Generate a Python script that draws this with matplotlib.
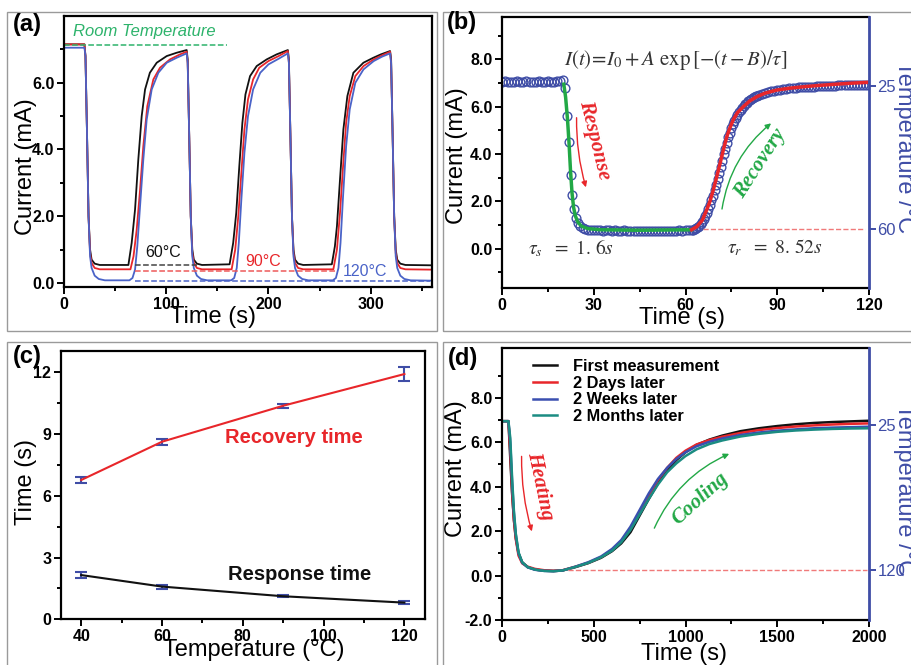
import numpy as np
import matplotlib
matplotlib.use('Agg')
import matplotlib.pyplot as plt
from matplotlib.patches import Rectangle
from matplotlib.ticker import MultipleLocator, FixedLocator, FormatStrFormatter

plt.rcParams['font.family'] = ['Liberation Sans', 'DejaVu Sans']
plt.rcParams['mathtext.fontset'] = 'stix'

# ---------------- data ----------------
# (a) cycling at three temperatures
a_time_60 = [0, 20, 21, 22.5, 24, 25.5, 27, 30, 35, 63, 66.2, 69.5, 72.7, 76, 79.3, 84, 90.7, 100.5, 110.3, 120,
             121, 122.5, 124, 125.5, 127, 130, 135, 162, 165.5, 168.5, 171.5, 174.5, 177.5, 182, 188.5, 198.3, 208, 219,
             220, 221.5, 223, 224.5, 226, 229, 234, 262, 265, 267, 270, 273.3, 277.2, 283.1, 292.9, 302.7, 310, 319,
             320, 321.5, 323, 324.5, 326, 329, 334, 360]
a_curr_60 = [7.15, 7.15, 6.8, 4.5, 2.0, 1.0, 0.7, 0.58, 0.54, 0.54, 1.2, 2.2, 3.7, 5.0, 5.8, 6.3, 6.6, 6.8, 6.9, 6.98,
             6.7, 4.4, 2.0, 1.0, 0.7, 0.58, 0.54, 0.56, 1.2, 2.1, 3.5, 4.8, 5.65, 6.2, 6.5, 6.7, 6.85, 6.98,
             6.7, 4.4, 2.0, 1.0, 0.7, 0.58, 0.54, 0.56, 1.1, 1.7, 3.1, 4.6, 5.6, 6.3, 6.6, 6.75, 6.85, 6.95,
             6.7, 4.4, 2.0, 1.0, 0.7, 0.58, 0.54, 0.53]
a_time_90 = [0, 20, 21, 22.5, 24, 25.5, 27, 30, 35, 65, 68, 71.1, 74.4, 77.6, 81.5, 87.4, 93.9, 103.7, 113.5, 120,
             121, 122.5, 124, 125.5, 127, 130, 135, 164, 167.5, 170.5, 173.5, 176.5, 180, 185, 191, 200, 210, 219,
             220, 221.5, 223, 224.5, 226, 229, 234, 263.5, 267, 270, 273, 276, 279.5, 285, 293, 303, 311, 319,
             320, 321.5, 323, 324.5, 326, 329, 334, 360]
a_curr_90 = [7.15, 7.15, 6.8, 4.5, 2.0, 0.9, 0.6, 0.45, 0.41, 0.41, 0.8, 1.59, 2.79, 4.1, 5.3, 6.1, 6.45, 6.7, 6.85, 6.93,
             6.6, 4.4, 2.0, 0.9, 0.6, 0.45, 0.41, 0.41, 1.0, 2.0, 3.3, 4.6, 5.5, 6.1, 6.45, 6.65, 6.8, 6.95,
             6.6, 4.4, 2.0, 0.9, 0.6, 0.45, 0.41, 0.41, 1.0, 2.1, 3.5, 4.8, 5.6, 6.2, 6.5, 6.7, 6.82, 6.93,
             6.6, 4.4, 2.0, 0.9, 0.6, 0.45, 0.41, 0.40]
a_time_120 = [0, 20, 21, 22.5, 24, 25.5, 27, 30, 34, 40, 64, 67, 69.5, 71.7, 74.4, 77.6, 80.9, 85.8, 92.3, 100.5, 110.3, 120,
              121, 122.5, 124, 125.5, 127, 130, 134, 140, 163.5, 166.5, 169, 171, 173.5, 176.5, 180, 185, 192, 200, 210, 219,
              220, 221.5, 223, 224.5, 226, 229, 233, 239, 263, 266, 268.5, 270.5, 273, 276, 279.5, 285, 293, 303, 311, 319,
              320, 321.5, 323, 324.5, 326, 329, 333, 339, 360]
a_curr_120 = [7.05, 7.05, 6.8, 4.5, 2.0, 0.8, 0.45, 0.22, 0.12, 0.08, 0.08, 0.15, 0.4, 1.1, 2.3, 3.7, 4.9, 5.8, 6.3, 6.6, 6.75, 6.88,
              6.6, 4.4, 2.0, 0.8, 0.45, 0.22, 0.12, 0.08, 0.08, 0.15, 0.45, 1.2, 2.5, 3.9, 5.0, 5.8, 6.3, 6.55, 6.72, 6.88,
              6.6, 4.4, 2.0, 0.8, 0.45, 0.22, 0.12, 0.08, 0.08, 0.15, 0.45, 1.2, 2.6, 4.1, 5.2, 6.0, 6.4, 6.65, 6.78, 6.88,
              6.6, 4.4, 2.0, 0.8, 0.45, 0.22, 0.12, 0.08, 0.07]
a_levels = [0.53, 0.36, 0.05]      # dashed guide levels 60, 90, 120 C
room_level = 7.12

# (b) single cycle with fits
b_time = (list(range(0, 20))
          + [20.0, 20.6, 21.4, 21.9, 22.5, 23.0, 23.6, 24.2, 24.9, 25.6, 26.4, 27.2]
          + list(range(28, 62))
          + list(np.arange(62, 84.5, 0.5))
          + list(range(85, 121)))
b_curr = ([7.05, 7.07, 7.04, 7.06, 7.05, 7.08, 7.04, 7.06, 7.07, 7.05,
           7.06, 7.04, 7.07, 7.05, 7.06, 7.08, 7.05, 7.06, 7.07, 7.08]
          + [7.12, 6.78, 5.61, 4.52, 3.11, 2.27, 1.66, 1.30, 1.08, 0.95, 0.87, 0.82]
          + [0.80, 0.79, 0.78, 0.77, 0.78, 0.76, 0.77, 0.78, 0.76, 0.77,
             0.75, 0.76, 0.77, 0.75, 0.76, 0.75, 0.76, 0.74, 0.75, 0.76,
             0.74, 0.75, 0.76, 0.75, 0.74, 0.76, 0.75, 0.76, 0.75, 0.76,
             0.77, 0.76, 0.77, 0.78]
          + [0.78, 0.80, 0.83, 0.87, 0.92, 0.98, 1.05, 1.14, 1.25, 1.38,
             1.52, 1.68, 1.85, 2.04, 2.24, 2.46, 2.70, 2.95, 3.20, 3.46,
             3.72, 3.98, 4.23, 4.47, 4.70, 4.90, 5.08, 5.25, 5.40, 5.53,
             5.65, 5.76, 5.86, 5.95, 6.03, 6.10, 6.16, 6.22, 6.27, 6.32,
             6.36, 6.40, 6.43, 6.46, 6.49]
          + [6.54, 6.58, 6.62, 6.65, 6.68, 6.70, 6.72, 6.74, 6.76, 6.77,
             6.79, 6.80, 6.81, 6.82, 6.83, 6.84, 6.85, 6.85, 6.86, 6.87,
             6.87, 6.88, 6.88, 6.89, 6.89, 6.90, 6.90, 6.90, 6.91, 6.91,
             6.91, 6.92, 6.92, 6.92, 6.92, 6.93])
fit_resp_t = [20.2, 20.8, 21.4, 21.9, 22.4, 22.9, 23.4, 24.0, 24.8, 26, 28, 32, 45, 62]
fit_resp_i = [6.95, 6.4, 5.5, 4.5, 3.3, 2.35, 1.75, 1.38, 1.12, 0.95, 0.85, 0.8, 0.78, 0.8]
fit_rec_t = [62, 63.7, 65.5, 66.9, 68, 69.1, 70.2, 71.3, 72.4, 73.5, 74.5, 75.6, 77, 78.9, 81, 83.3,
             86, 89.8, 94, 98.5, 103, 108.3, 114, 120]
fit_rec_i = [0.8, 0.93, 1.2, 1.63, 2.0, 2.48, 3.03, 3.6, 4.18, 4.73, 5.1, 5.44, 5.75, 6.0, 6.24, 6.42,
             6.57, 6.7, 6.78, 6.84, 6.89, 6.94, 6.99, 7.03]
b_temp_ticks = [25, 60]

# (c) response / recovery time vs temperature
c_temp = [40, 60, 90, 120]
c_recovery = [6.77, 8.63, 10.38, 11.92]
c_recovery_err = [0.15, 0.15, 0.1, 0.34]
c_response = [2.15, 1.59, 1.12, 0.81]
c_response_err = [0.13, 0.1, 0.05, 0.06]

# (d) stability
d_time = [0, 35, 45, 55, 65, 75, 90, 110, 140, 180, 230, 280, 330, 400, 470, 540, 600, 650, 700, 750,
          800, 850, 900, 950, 1000, 1060, 1130, 1200, 1300, 1400, 1500, 1600, 1700, 1800, 1900, 2000]
d_first = [6.95, 6.95, 5.3, 3.7, 2.5, 1.7, 1.0, 0.6, 0.38, 0.27, 0.22, 0.2, 0.23, 0.38, 0.56, 0.8, 1.1, 1.45, 1.95, 2.7,
           3.45, 4.15, 4.75, 5.2, 5.55, 5.88, 6.12, 6.3, 6.5, 6.63, 6.73, 6.81, 6.87, 6.91, 6.94, 6.97]
d_days = [6.95, 6.95, 5.6, 3.8, 2.5, 1.65, 0.9, 0.55, 0.4, 0.3, 0.24, 0.22, 0.24, 0.4, 0.58, 0.83, 1.15, 1.55, 2.1, 2.85,
          3.6, 4.3, 4.85, 5.3, 5.62, 5.9, 6.1, 6.25, 6.42, 6.55, 6.64, 6.71, 6.76, 6.8, 6.83, 6.85]
d_weeks = [6.95, 6.95, 6.0, 4.2, 2.8, 1.85, 1.0, 0.58, 0.37, 0.26, 0.21, 0.2, 0.23, 0.4, 0.6, 0.86, 1.2, 1.6, 2.2, 2.95,
           3.7, 4.35, 4.85, 5.25, 5.55, 5.82, 6.02, 6.17, 6.33, 6.44, 6.52, 6.58, 6.63, 6.66, 6.68, 6.7]
d_months = [6.95, 6.95, 6.2, 4.4, 2.9, 1.9, 1.05, 0.6, 0.38, 0.27, 0.21, 0.2, 0.23, 0.39, 0.57, 0.82, 1.12, 1.5, 2.05, 2.75,
            3.45, 4.1, 4.65, 5.05, 5.38, 5.68, 5.92, 6.08, 6.26, 6.38, 6.47, 6.53, 6.57, 6.6, 6.62, 6.63]
d_labels = ['First measurement', '2 Days later', '2 Weeks later', '2 Months later']
d_temp_ticks = [25, 120]

# ---------------- styling ----------------
RED = '#E8262A'
BLUE = '#4A63C8'
AXBLUE = '#3F4DA6'
GREEN = '#22A846'
TEAL = '#1B8C82'
W, H = 911, 665

fig = plt.figure(figsize=(W / 100, H / 100), dpi=100)


def add_ax(left, right, top, bottom):
    return fig.add_axes([left / W, 1 - bottom / H, (right - left) / W, (bottom - top) / H])


def style(ax):
    for s in ax.spines.values():
        s.set_linewidth(1.6)
    ax.tick_params(which='both', direction='out', top=False, right=False, width=1.4)
    ax.tick_params(which='major', length=5, labelsize=11.5, pad=2)
    ax.tick_params(which='minor', length=3)
    plt.setp(ax.get_xticklabels() + ax.get_yticklabels(), fontweight='bold')


# gray panel frames
for x0, y0, x1, y1 in [(7, 12, 437, 331), (443, 12, 915, 331), (7, 342, 437, 670), (443, 342, 915, 670)]:
    fig.add_artist(Rectangle((x0 / W, 1 - y1 / H), (x1 - x0) / W, (y1 - y0) / H,
                             transform=fig.transFigure, fill=False, ec='#9a9a9a', lw=1.0))

# ---------------- (a) ----------------
axa = add_ax(64, 432, 16, 287)
axa.plot(a_time_60, a_curr_60, color='#111111', lw=1.3)
axa.plot(a_time_90, a_curr_90, color=RED, lw=1.3)
axa.plot(a_time_120, a_curr_120, color=BLUE, lw=1.3)
axa.plot([0, 159], [room_level, room_level], ls='--', color='#2DB36B', lw=1.1)
axa.plot([69, 130], [a_levels[0]] * 2, ls='--', color='#444444', lw=1.1)
axa.plot([69, 266], [a_levels[1]] * 2, ls='--', color='#EE5A5A', lw=1.1)
axa.plot([69, 358], [a_levels[2]] * 2, ls='--', color=BLUE, lw=1.1)
axa.text(8.8, 7.54, 'Room Temperature', color='#2DB36B', fontstyle='italic', fontsize=12, va='center')
axa.text(79.3, 0.9, '60°C', color='#111111', fontsize=11.5, va='center')
axa.text(177, 0.63, '90°C', color=RED, fontsize=11.5, va='center')
axa.text(273, 0.33, '120°C', color=BLUE, fontsize=11.5, va='center')
axa.set_xlim(0, 360)
axa.set_ylim(-0.12, 8.0)
axa.xaxis.set_major_locator(MultipleLocator(100))
axa.xaxis.set_minor_locator(MultipleLocator(50))
axa.yaxis.set_major_locator(FixedLocator([0, 2, 4, 6]))
axa.yaxis.set_minor_locator(FixedLocator([1, 3, 5, 7]))
axa.yaxis.set_major_formatter(FormatStrFormatter('%.1f'))
axa.set_xlabel('Time (s)', fontsize=17)
axa.set_ylabel('Current (mA)', fontsize=17)
axa.xaxis.set_label_coords(0.405, -0.07)
axa.yaxis.set_label_coords(-0.073, 0.445)
style(axa)

# ---------------- (b) ----------------
axb = add_ax(502, 869, 16.7, 288)
axb.plot(b_time, b_curr, 'o', mfc='none', mec=AXBLUE, ms=6.3, mew=1.0)
axb.plot(fit_resp_t, fit_resp_i, color=GREEN, lw=2.5)
axb.plot(fit_rec_t, fit_rec_i, color=RED, lw=2.5)
axb.text(56.9, 7.97, r'$I\left(t\right)\!=\!I_0+A\ \exp\left[-\left(t-B\right)/\tau\right]$',
         fontsize=15, color='#333333', ha='center', va='center')
serif = dict(family='Liberation Serif', style='italic', weight='bold', fontsize=15,
             ha='center', va='center', rotation_mode='anchor')
axb.text(30.4, 4.6, 'Response', color=RED, rotation=-76, **serif)
axb.text(84.4, 3.61, 'Recovery', color=GREEN, rotation=57, **serif)
axb.annotate('', xy=(27.7, 2.48), xytext=(24.4, 5.65),
             arrowprops=dict(arrowstyle='-|>', color=RED, lw=1.0, mutation_scale=8,
                             connectionstyle='arc3,rad=0.08'))
axb.annotate('', xy=(88.7, 5.37), xytext=(71.8, 1.56),
             arrowprops=dict(arrowstyle='-|>', color=GREEN, lw=1.0, mutation_scale=8,
                             connectionstyle='arc3,rad=-0.2'))
axb.text(8.6, 0.03, r'$\tau_s\ \ =\ 1.\,6s$', fontsize=14, color='#333333', va='center')
axb.text(73.5, 0.03, r'$\tau_r\ \ =\ 8.\,52s$', fontsize=14, color='#333333', va='center')
axb.set_xlim(0, 120)
axb.set_ylim(-1.66, 9.8)
axb.xaxis.set_major_locator(MultipleLocator(30))
axb.xaxis.set_minor_locator(MultipleLocator(15))
axb.yaxis.set_major_locator(MultipleLocator(2))
axb.yaxis.set_minor_locator(MultipleLocator(1))
axb.yaxis.set_major_formatter(FormatStrFormatter('%.1f'))
axb.set_xlabel('Time (s)', fontsize=17)
axb.set_ylabel('Current (mA)', fontsize=17)
axb.xaxis.set_label_coords(0.49, -0.07)
axb.yaxis.set_label_coords(-0.093, 0.487)
style(axb)
axb.spines['right'].set_visible(False)
tb = axb.twinx()
tb.set_ylim(74.44, 8.04)
tb.set_yticks(b_temp_ticks)
tb.plot([65.8, 118.7], [60, 60], ls='--', color='#F07A7A', lw=1.0)
tb.tick_params(axis='y', colors=AXBLUE, labelsize=12, direction='out', length=5, width=1.4, pad=1)
tb.spines['right'].set_color(AXBLUE)
tb.spines['right'].set_linewidth(2.0)
for side in ['left', 'top', 'bottom']:
    tb.spines[side].set_visible(False)

# ---------------- (c) ----------------
axc = add_ax(61, 425, 351, 619.3)
axc.errorbar(c_temp, c_recovery, yerr=c_recovery_err, color=RED, ecolor=AXBLUE, lw=1.5,
             elinewidth=1.5, capsize=4, capthick=1.5)
axc.errorbar(c_temp, c_response, yerr=c_response_err, color='#111111', ecolor=AXBLUE, lw=1.5,
             elinewidth=1.5, capsize=4, capthick=1.5)
axc.text(75.7, 8.86, 'Recovery time', color=RED, fontweight='bold', fontsize=14.5, va='center')
axc.text(76.4, 2.2, 'Response time', color='#111111', fontweight='bold', fontsize=14.5, va='center')
axc.set_xlim(35, 125.1)
axc.set_ylim(0, 13.04)
axc.xaxis.set_major_locator(MultipleLocator(20))
axc.xaxis.set_minor_locator(MultipleLocator(10))
axc.yaxis.set_major_locator(MultipleLocator(3))
axc.yaxis.set_minor_locator(MultipleLocator(1.5))
axc.set_xlabel('Temperature (°C)', fontsize=17)
axc.set_ylabel('Time (s)', fontsize=17)
axc.xaxis.set_label_coords(0.529, -0.073)
axc.yaxis.set_label_coords(-0.066, 0.512)
style(axc)

# ---------------- (d) ----------------
axd = add_ax(502, 869, 348.3, 620)
axd.plot(d_time, d_first, color='#111111', lw=1.8, label=d_labels[0])
axd.plot(d_time, d_days, color=RED, lw=1.8, label=d_labels[1])
axd.plot(d_time, d_weeks, color='#3A4FB0', lw=1.8, label=d_labels[2])
axd.plot(d_time, d_months, color=TEAL, lw=1.8, label=d_labels[3])
axd.legend(loc='upper left', bbox_to_anchor=(0.062, 0.99), frameon=False, borderpad=0,
           prop=dict(weight='bold', size=11.8), handlelength=1.45, handletextpad=1.0, labelspacing=0.1)
axd.text(207, 4.04, 'Heating', color=RED, rotation=-78, **serif)
axd.text(1079, 3.45, 'Cooling', color=GREEN, rotation=42, **serif)
axd.annotate('', xy=(167, 1.87), xytext=(107, 5.49),
             arrowprops=dict(arrowstyle='-|>', color=RED, lw=1.0, mutation_scale=8,
                             connectionstyle='arc3,rad=0.08'))
axd.annotate('', xy=(1252, 5.53), xytext=(824, 2.02),
             arrowprops=dict(arrowstyle='-|>', color=GREEN, lw=1.0, mutation_scale=8,
                             connectionstyle='arc3,rad=-0.2'))
axd.set_xlim(0, 2000)
axd.set_ylim(-2.0, 10.23)
axd.xaxis.set_major_locator(MultipleLocator(500))
axd.xaxis.set_minor_locator(MultipleLocator(250))
axd.yaxis.set_major_locator(FixedLocator([-2, 0, 2, 4, 6, 8]))
axd.yaxis.set_minor_locator(FixedLocator([-1, 1, 3, 5, 7, 9]))
axd.yaxis.set_major_formatter(FormatStrFormatter('%.1f'))
axd.set_xlabel('Time (s)', fontsize=17)
axd.set_ylabel('Current (mA)', fontsize=17)
axd.xaxis.set_label_coords(0.496, -0.085)
axd.yaxis.set_label_coords(-0.095, 0.556)
style(axd)
axd.spines['right'].set_visible(False)
td = axd.twinx()
td.set_ylim(152.5, -25.1)
td.set_yticks(d_temp_ticks)
td.plot([361, 1987], [120, 120], ls='--', color='#F07A7A', lw=1.0)
td.tick_params(axis='y', colors=AXBLUE, labelsize=12, direction='out', length=5, width=1.4, pad=1)
td.spines['right'].set_color(AXBLUE)
td.spines['right'].set_linewidth(2.0)
for side in ['left', 'top', 'bottom']:
    td.spines[side].set_visible(False)

# right-hand axis titles (run off the figure edge as in the original)
fig.text(904 / W, 1 - 147 / H, 'Temperature /°C', rotation=-90, color=AXBLUE, fontsize=17,
         ha='center', va='center')
fig.text(904 / W, 1 - 490 / H, 'Temperature /°C', rotation=-90, color=AXBLUE, fontsize=17,
         ha='center', va='center')

# panel letters
for x, y, s in [(13, 25, '(a)'), (447, 23, '(b)'), (13, 356, '(c)'), (448, 358, '(d)')]:
    fig.text(x / W, 1 - y / H, s, fontsize=17, fontweight='bold', va='center')

fig.savefig('out.png', dpi=100)
